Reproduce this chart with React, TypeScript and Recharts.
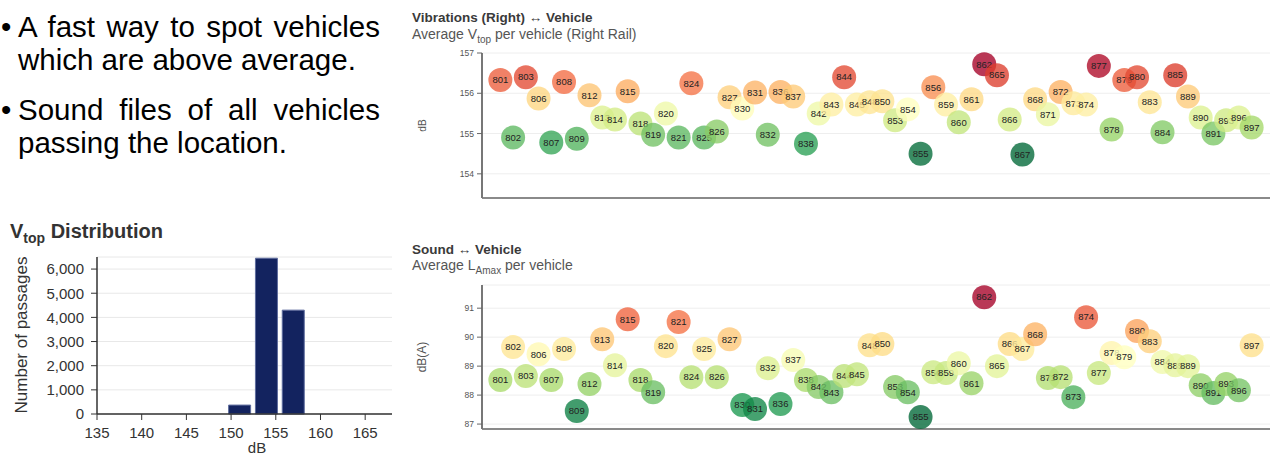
import React from 'react';
import { ScatterChart, Scatter, XAxis, YAxis, CartesianGrid, BarChart, Bar } from 'recharts';

const vehicles = ['801','802','803','806','807','808','809','812','813','814','815','818','819','820','821','824','825','826','827','830','831','832','836','837','838','842','843','844','845','848','850','853','854','855','856','859','860','861','862','865','866','867','868','871','872','873','874','877','878','879','880','883','884','885','889','890','891','893','896','897'];

const vibrationValues = [156.33,154.9,156.4,155.87,154.78,156.28,154.87,155.95,155.4,155.35,156.05,155.25,154.97,155.5,154.9,156.25,154.9,155.05,155.9,155.62,156.02,154.97,156.03,155.92,154.75,155.5,155.72,156.4,155.72,155.78,155.8,155.33,155.6,154.5,156.15,155.72,155.28,155.85,156.72,156.45,155.35,154.48,155.85,155.48,156.03,155.75,155.72,156.68,155.1,156.33,156.4,155.78,155.03,156.45,155.92,155.4,155.0,155.33,155.4,155.15];

const soundValues = [88.52,89.66,88.66,89.41,88.52,89.59,87.45,88.38,89.93,89.03,90.62,88.52,88.1,89.69,90.52,88.62,89.59,88.62,89.93,87.66,87.52,88.93,87.69,89.21,88.52,88.28,88.1,88.66,88.72,89.72,89.76,88.28,88.1,87.24,88.79,88.76,89.1,88.41,91.38,89.0,89.76,89.59,90.1,88.59,88.62,87.93,90.69,88.76,89.45,89.31,90.21,89.86,89.14,89.03,89.0,88.34,88.07,88.38,88.17,89.72];

const vibrationTicks = [154, 155, 156, 157];
const soundTicks = [87, 88, 89, 90, 91];

const histBins = [151, 154, 157];
const histCounts = [370, 6450, 4300];
const histXTicks = [135, 140, 145, 150, 155, 160, 165];
const histYTicks = [0, 1000, 2000, 3000, 4000, 5000, 6000];

const PALETTE = ['#006837','#1a9850','#66bd63','#a6d96a','#d9ef8b','#ffffbf','#fee08b','#fdae61','#f46d43','#d73027','#a50026'];

function hexToRgb(h: string) {
  return [parseInt(h.slice(1, 3), 16), parseInt(h.slice(3, 5), 16), parseInt(h.slice(5, 7), 16)];
}
function colorAt(t: number) {
  const tt = Math.max(0, Math.min(1, t));
  const p = tt * (PALETTE.length - 1);
  const i = Math.min(PALETTE.length - 2, Math.floor(p));
  const f = p - i;
  const a = hexToRgb(PALETTE[i]);
  const b = hexToRgb(PALETTE[i + 1]);
  const c = a.map((v, k) => Math.round(v + (b[k] - v) * f));
  return `rgb(${c[0]},${c[1]},${c[2]})`;
}
function buildData(values: number[]) {
  const mn = Math.min(...values);
  const mx = Math.max(...values);
  return vehicles.map((v, i) => ({ vehicle: v, value: values[i], color: colorAt((values[i] - mn) / (mx - mn)) }));
}

const vibrationData = buildData(vibrationValues);
const soundData = buildData(soundValues);
const histData = histBins.map((b, i) => ({ bin: b, count: histCounts[i] }));

const FONT = '"Liberation Sans", Arial, sans-serif';

const Bubble = (props: any) => {
  const { cx, cy, payload } = props;
  if (cx == null || cy == null) return null;
  return (
    <g>
      <circle cx={cx} cy={cy} r={12} fill={payload.color} fillOpacity={0.78} />
      <text x={cx} y={cy} dy="0.35em" textAnchor="middle" fontSize={9.5} fill="#222" fontFamily={FONT}>
        {payload.vehicle}
      </text>
    </g>
  );
};

function VehicleChart({ data, domain, ticks, label, labelSize, top, height, marginTop, xAxisHeight }: any) {
  return (
    <div style={{ position: 'absolute', left: 400, top }}>
      <ScatterChart width={873} height={height} margin={{ top: marginTop, right: 3, bottom: 0, left: 0 }}>
        <CartesianGrid vertical={false} stroke="#eeeeee" />
        <XAxis
          dataKey="vehicle"
          type="category"
          allowDuplicatedCategory={false}
          padding={{ left: 12, right: 12 }}
          tick={false}
          tickLine={false}
          height={xAxisHeight}
          axisLine={{ stroke: '#8a8a8a', strokeWidth: 2 }}
        />
        <YAxis
          dataKey="value"
          type="number"
          domain={domain}
          ticks={ticks}
          width={82}
          tick={{ fontSize: 8.5, fill: '#555' }}
          tickSize={5}
          tickMargin={3}
          tickLine={{ stroke: '#666' }}
          axisLine={{ stroke: '#777', strokeWidth: 2 }}
          label={{ value: label, angle: -90, position: 'insideLeft', offset: 22, style: { textAnchor: 'middle', fontSize: labelSize, fill: '#555' } }}
        />
        <Scatter data={data} dataKey="value" isAnimationActive={false} shape={Bubble} />
      </ScatterChart>
    </div>
  );
}

function Histogram() {
  return (
    <div style={{ position: 'absolute', left: 0, top: 245 }}>
      <BarChart width={400} height={211} data={histData} margin={{ top: 12, right: 8, bottom: 0, left: 0 }}>
        <CartesianGrid vertical={false} stroke="#e8e8e8" />
        <XAxis
          dataKey="bin"
          type="number"
          domain={[135, 168]}
          ticks={histXTicks}
          height={42}
          tick={{ fontSize: 15, fill: '#333' }}
          tickSize={6}
          tickMargin={7}
          tickLine={{ stroke: '#333' }}
          axisLine={{ stroke: '#333', strokeWidth: 1.5 }}
        />
        <YAxis
          type="number"
          domain={[0, 6500]}
          ticks={histYTicks}
          width={97}
          tick={{ fontSize: 15, fill: '#333' }}
          tickSize={6}
          tickMargin={7}
          tickFormatter={(v: number) => v.toLocaleString('en-US')}
          tickLine={{ stroke: '#333' }}
          axisLine={{ stroke: '#333', strokeWidth: 1.5 }}
        />
        <Bar dataKey="count" barSize={22} fill="#13235f" stroke="#5e6c9e" strokeWidth={1} isAnimationActive={false} />
      </BarChart>
    </div>
  );
}

const lineStyle: any = {
  position: 'absolute',
  fontSize: 29.5,
  lineHeight: '33px',
  height: 33,
  color: '#000',
  whiteSpace: 'nowrap',
};

export default function App() {
  return (
    <div style={{ position: 'absolute', left: 0, top: 0, width: 1273, height: 456, background: '#fff', fontFamily: FONT, overflow: 'hidden' }}>
      <div style={{ ...lineStyle, left: 1, top: 10.3 }}>•</div>
      <div style={{ ...lineStyle, left: 18, top: 10.3, width: 362, textAlign: 'justify', textAlignLast: 'justify' }}>A fast way to spot vehicles</div>
      <div style={{ ...lineStyle, left: 18, top: 43.3 }}>which are above average.</div>
      <div style={{ ...lineStyle, left: 1, top: 93.3 }}>•</div>
      <div style={{ ...lineStyle, left: 18, top: 93.3, width: 362, textAlign: 'justify', textAlignLast: 'justify' }}>Sound files of all vehicles</div>
      <div style={{ ...lineStyle, left: 18, top: 126.3 }}>passing the location.</div>

      <Histogram />
      <VehicleChart data={vibrationData} domain={[153.4, 157]} ticks={vibrationTicks} label="dB" labelSize={10} top={40} height={175} marginTop={13} xAxisHeight={17} />
      <VehicleChart data={soundData} domain={[86.83, 91.8]} ticks={soundTicks} label="dB(A)" labelSize={12} top={280} height={160} marginTop={5} xAxisHeight={11} />

      <svg width={1273} height={456} style={{ position: 'absolute', left: 0, top: 0, pointerEvents: 'none' }} fontFamily={FONT}>
        <text x={412} y={22} fontSize={13.5} fontWeight="bold" fill="#3a3a3a">Vibrations (Right) ↔ Vehicle</text>
        <text x={412} y={39} fontSize={14} fill="#555">
          Average V<tspan fontSize={10} dy={4}>top</tspan><tspan dy={-4}> per vehicle (Right Rail)</tspan>
        </text>
        <text x={412} y={254} fontSize={13.5} fontWeight="bold" fill="#3a3a3a">Sound ↔ Vehicle</text>
        <text x={412} y={270} fontSize={14} fill="#555">
          Average L<tspan fontSize={10} dy={4}>Amax</tspan><tspan dy={-4}> per vehicle</tspan>
        </text>
        <text x={10} y={238} fontSize={20} fontWeight="bold" fill="#333">
          V<tspan fontSize={14} dy={5}>top</tspan><tspan dy={-5}> Distribution</tspan>
        </text>
        <text x={0} y={0} fontSize={17} textAnchor="middle" fill="#333" transform="translate(27,335) rotate(-90)">Number of passages</text>
        <text x={257} y={453} fontSize={15} textAnchor="middle" fill="#333">dB</text>
      </svg>
    </div>
  );
}
